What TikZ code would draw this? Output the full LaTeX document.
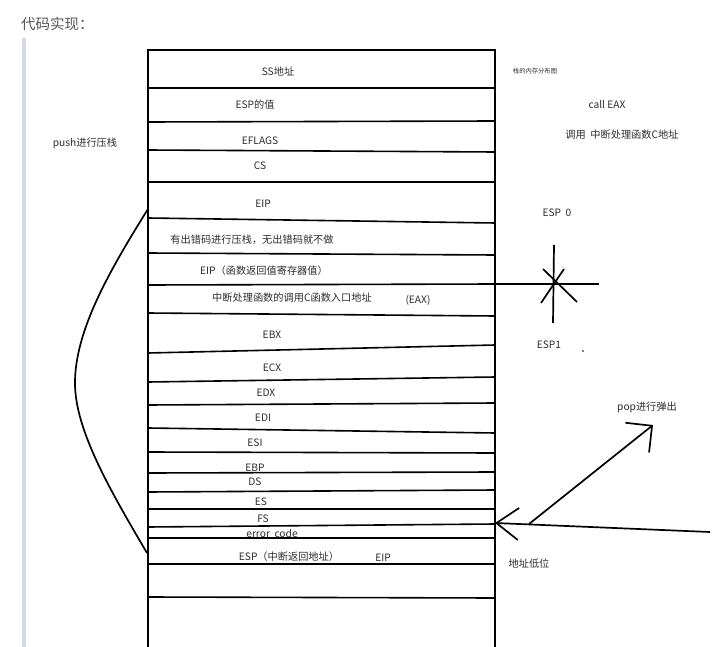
\documentclass[tikz,border=0pt]{standalone}
\usepackage{fontspec}
\setmainfont{Noto Sans CJK SC}
\usetikzlibrary{arrows.meta}
\definecolor{txt}{HTML}{2C2C2C}
\definecolor{barcol}{HTML}{D3D7E6}
\tikzstyle{lbl} = [inner sep=0pt, text=txt, font=\fontsize{10.2}{11}\selectfont]
\tikzstyle{tiny} = [inner sep=0pt, text=txt, font=\fontsize{6.3}{7}\selectfont]
\tikzstyle{stackline} = [line width=1.6pt]
\tikzstyle{pen} = [line width=1.7pt]
\begin{document}
\begin{tikzpicture}[x=1pt,y=-1pt]
    \useasboundingbox (0,0) rectangle (720,647);
    \node [inner sep=0pt, text=txt!80, font=\fontsize{14.5}{16}\selectfont, anchor=west] (title) at (21,24) {代码实现：};
    \fill [barcol] (22,38) rectangle (26,647);

    % the stack frame
    \draw [stackline] (148,647) -- (148,50) -- (495,50) -- (495,647);
    \foreach \yl/\yr in {88/88,122/121,150/152,182/182,218/223,253/255,285/284,313/316,353/345,382/377,405/403,428/433,452/453,473/472,492/490,509/509,527/524,538/538,564/564,597/598}
        \draw [stackline] (148,\yl) -- (495,\yr);

    \node [lbl] (ss) at (278,72) {SS地址};
    \node [lbl] (espval) at (255,105) {ESP的值};
    \node [lbl] (eflags) at (260,141) {EFLAGS};
    \node [lbl] (cs) at (260,166) {CS};
    \node [lbl] (eip) at (263,204) {EIP};
    \node [lbl] (errc) at (252,240) {有出错码进行压栈，无出错码就不做};
    \node [lbl] (eipret) at (264,271) {EIP（函数返回值寄存器值）};
    \node [lbl] (centry) at (292,298) {中断处理函数的调用C函数入口地址};
    \node [lbl] (eax) at (418,300) {(EAX)};
    \node [lbl] (ebx) at (272,335) {EBX};
    \node [lbl] (ecx) at (272,368) {ECX};
    \node [lbl] (edx) at (266,393) {EDX};
    \node [lbl] (edi) at (263,418) {EDI};
    \node [lbl] (esi) at (255,443) {ESI};
    \node [lbl] (ebp) at (255,468) {EBP};
    \node [lbl] (ds) at (255,482) {DS};
    \node [lbl] (es) at (261,502) {ES};
    \node [lbl] (fs) at (263,519) {FS};
    \node [lbl] (errcode) at (272,534) {error\ \ code};
    \node [lbl] (espret) at (289,557) {ESP（中断返回地址）};
    \node [lbl] (eipb) at (383,558) {EIP};

    % labels round the stack
    \node [lbl] (push) at (85,143) {push进行压栈};
    \node [tiny] (layout) at (535,71) {栈的内存分布图};
    \node [lbl] (calleax) at (607,105) {call EAX};
    \node [lbl] (callc) at (622,135) {调用\ \ 中断处理函数C地址};
    \node [lbl] (espzero) at (557,213) {ESP\ \ 0};
    \node [lbl] (espone) at (549,345) {ESP1};
    \node [lbl] (pop) at (647,407) {pop进行弹出};
    \node [lbl] (lowaddr) at (529,564) {地址低位};
    \fill (583,351) circle (0.9pt);

    % push bracket
    \coordinate (pushtop) at (148,209);
    \coordinate (pushbot) at (147,553);
    \draw [pen] (pushtop) .. controls (110,270) and (75,330) .. (75,383)
                .. controls (75,430) and (110,490) .. (pushbot);

    % esp marker
    \coordinate (esp) at (554,284);
    \coordinate (espend) at (599,284);
    \draw [pen] (495,284) -- (espend);
    \draw [pen] (554,245) -- (553,323);
    \draw [pen] (543,269) -- (577,302);
    \draw [pen] (564,269) -- (541,303);

    % pop arrow and pointer
    \coordinate (popfrom) at (529,524);
    \coordinate (popto) at (653,425);
    \coordinate (ptrfrom) at (710,532);
    \coordinate (ptrto) at (495,523);
    \draw [pen, -{Straight Barb[length=19pt, width=38pt, line width=1.7pt]}] (popfrom) -- (popto);
    \draw [pen, -{Straight Barb[length=22pt, width=32pt, line width=1.7pt]}] (ptrfrom) -- (ptrto);
\end{tikzpicture}
\end{document}
